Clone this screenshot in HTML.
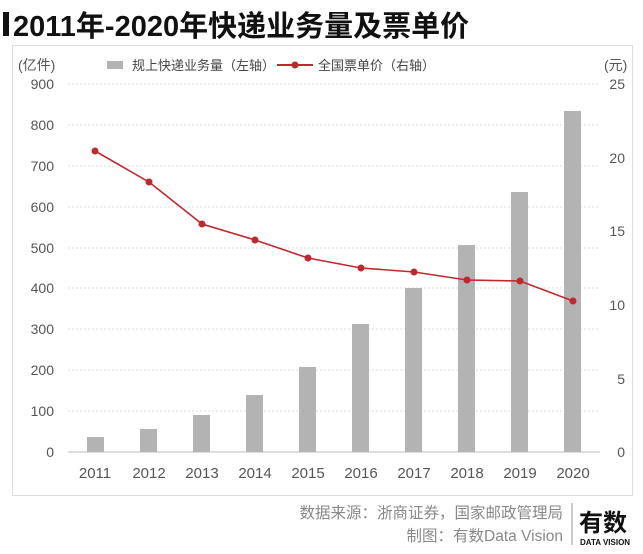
<!DOCTYPE html><html><head><meta charset="utf-8"><style>
body{margin:0;background:#fff;width:643px;height:549px;overflow:hidden;font-family:"Liberation Sans","Noto Sans CJK SC",sans-serif}
</style></head><body>
<svg width="643" height="549" xmlns="http://www.w3.org/2000/svg" font-family="Liberation Sans, Noto Sans CJK SC, sans-serif">
<rect x="3" y="12" width="6" height="24" fill="#111"/>
<text x="13" y="36" font-size="29" font-weight="bold" fill="#111">2011年-2020年快递业务量及票单价</text>
<rect x="12.5" y="45.5" width="620" height="450" fill="none" stroke="#ddd"/>
<text x="18" y="70" font-size="14" fill="#555">(亿件)</text>
<text x="604" y="70" font-size="14" fill="#555">(元)</text>
<rect x="107" y="61" width="16" height="8" fill="#b3b3b3"/>
<text x="132" y="70" font-size="13" fill="#444">规上快递业务量（左轴）</text>
<line x1="277" y1="65" x2="313" y2="65" stroke="#c0282d" stroke-width="2"/><circle cx="295" cy="65" r="3.5" fill="#c0282d"/>
<text x="318" y="70" font-size="13" fill="#444">全国票单价（右轴）</text>
<g stroke="#ddd" stroke-dasharray="2,2">
<line x1="68" x2="600" y1="84" y2="84"/><line x1="68" x2="600" y1="125" y2="125"/><line x1="68" x2="600" y1="166" y2="166"/><line x1="68" x2="600" y1="207" y2="207"/><line x1="68" x2="600" y1="248" y2="248"/><line x1="68" x2="600" y1="288" y2="288"/><line x1="68" x2="600" y1="329" y2="329"/><line x1="68" x2="600" y1="370" y2="370"/><line x1="68" x2="600" y1="411" y2="411"/></g>
<line x1="68" x2="600" y1="452" y2="452" stroke="#bbb"/>
<g font-size="14" fill="#555" text-anchor="end">
<text x="54" y="89">900</text><text x="54" y="130">800</text><text x="54" y="171">700</text><text x="54" y="212">600</text><text x="54" y="253">500</text><text x="54" y="293">400</text><text x="54" y="334">300</text><text x="54" y="375">200</text><text x="54" y="416">100</text><text x="54" y="457">0</text></g>
<g font-size="14" fill="#555" text-anchor="end">
<text x="625" y="89">25</text><text x="625" y="163">20</text><text x="625" y="236">15</text><text x="625" y="310">10</text><text x="625" y="384">5</text><text x="625" y="457">0</text></g>
<g fill="#b3b3b3">
<rect x="87" y="437" width="17" height="15"/><rect x="140" y="429" width="17" height="23"/><rect x="193" y="415" width="17" height="37"/><rect x="246" y="395" width="17" height="57"/><rect x="299" y="367" width="17" height="85"/><rect x="352" y="324" width="17" height="128"/><rect x="405" y="288" width="17" height="164"/><rect x="458" y="245" width="17" height="207"/><rect x="511" y="192" width="17" height="260"/><rect x="564" y="111" width="17" height="341"/></g>
<polyline fill="none" stroke="#c0282d" stroke-width="1.6" points="95,151 149,182 202,224 255,240 308,258 361,268 414,272 467,280 520,281 573,301"/>
<g fill="#c0282d"><circle cx="95" cy="151" r="3.5"/><circle cx="149" cy="182" r="3.5"/><circle cx="202" cy="224" r="3.5"/><circle cx="255" cy="240" r="3.5"/><circle cx="308" cy="258" r="3.5"/><circle cx="361" cy="268" r="3.5"/><circle cx="414" cy="272" r="3.5"/><circle cx="467" cy="280" r="3.5"/><circle cx="520" cy="281" r="3.5"/><circle cx="573" cy="301" r="3.5"/></g>
<g font-size="15" fill="#555" text-anchor="middle">
<text x="95" y="478">2011</text><text x="149" y="478">2012</text><text x="202" y="478">2013</text><text x="255" y="478">2014</text><text x="308" y="478">2015</text><text x="361" y="478">2016</text><text x="414" y="478">2017</text><text x="467" y="478">2018</text><text x="520" y="478">2019</text><text x="573" y="478">2020</text></g>
<g font-size="15.5" fill="#888" text-anchor="end">
<text x="563" y="518">数据来源：浙商证券，国家邮政管理局</text>
<text x="563" y="541">制图：有数Data Vision</text></g>
<line x1="572" y1="503" x2="572" y2="545" stroke="#999"/>
<text x="579" y="531" font-size="24" font-weight="bold" fill="#111">有数</text>
<text x="580" y="545" font-size="8" font-weight="bold" fill="#111">DATA VISION</text>
</svg></body></html>
